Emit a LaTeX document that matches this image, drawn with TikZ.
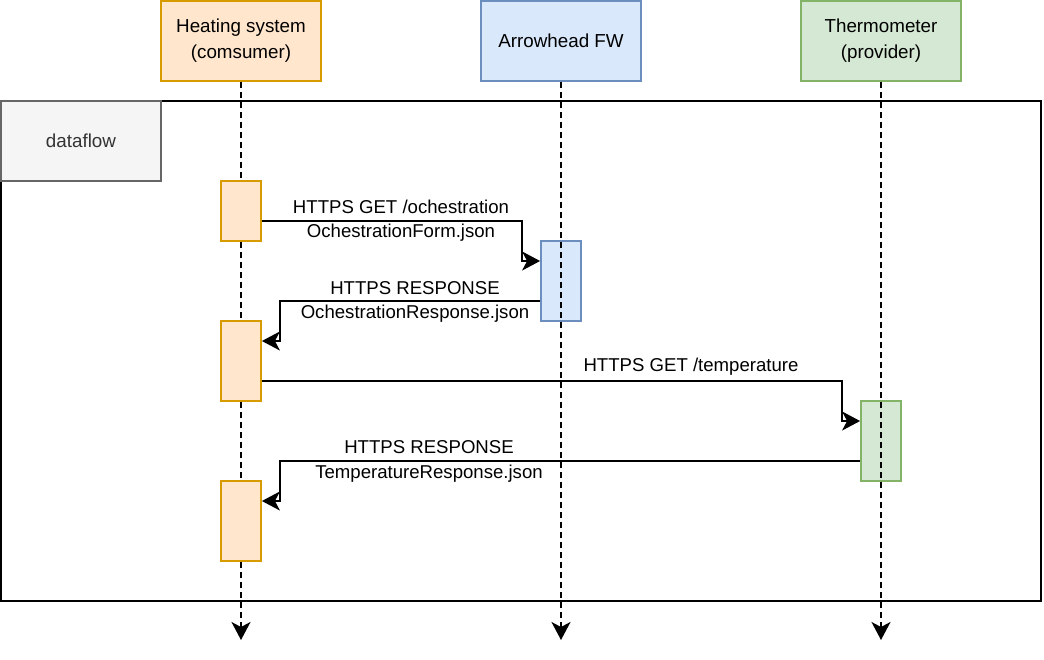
\documentclass[tikz,border=0pt]{standalone}
\usepackage{fontspec}
\setmainfont{Liberation Sans}
\usetikzlibrary{arrows.meta}
\definecolor{hfill}{HTML}{FFE6CC}
\definecolor{hdraw}{HTML}{D79B00}
\definecolor{afill}{HTML}{DAE8FC}
\definecolor{adraw}{HTML}{6C8EBF}
\definecolor{tfill}{HTML}{D5E8D4}
\definecolor{tdraw}{HTML}{82B366}
\definecolor{dfill}{HTML}{F5F5F5}
\definecolor{ddraw}{HTML}{666666}
\definecolor{dtext}{HTML}{333333}
\tikzset{
  lw/.style={line width=1.8pt},
  partbox/.style={lw, draw, rectangle, minimum width=160pt, minimum height=80pt, inner sep=0pt, align=center, font=\fontsize{18.8}{26}\selectfont},
  actbox/.style={lw, draw, rectangle, minimum width=40pt, inner sep=0pt},
  life/.style={lw, dash pattern=on 6pt off 4pt, -{Stealth[length=18pt, width=19pt, inset=5pt]}},
  msg/.style={lw, -{Stealth[length=18pt, width=19pt, inset=5pt]}},
  lbl/.style={inner sep=0pt, align=center, font=\fontsize{18.6}{26}\selectfont},
}
\begin{document}
\begin{tikzpicture}[x=1pt, y=-1pt]
\useasboundingbox (0,0) rectangle (1044,660);
% frame
\node[lw, draw=black, rectangle, minimum width=1040pt, minimum height=500pt, inner sep=0pt] (frame) at (521,351) {};
\node[lw, draw=ddraw, fill=dfill, rectangle, minimum width=160pt, minimum height=80pt, inner sep=0pt, text=dtext, font=\fontsize{18.8}{23}\selectfont] (df) at (81,141) {dataflow};
% participants
\node[partbox, draw=hdraw, fill=hfill] (hs) at (241,41) {Heating system\\(comsumer)};
\node[partbox, draw=adraw, fill=afill] (aw) at (561,41) {Arrowhead FW};
\node[partbox, draw=tdraw, fill=tfill] (th) at (881,41) {Thermometer\\(provider)};
% end coordinates
\coordinate (hend) at (241,640);
\coordinate (aend) at (561,640);
\coordinate (tend) at (881,640);
% heating lifeline (under activations)
\draw[life] (hs.south) -- (hend);
% activations
\node[actbox, draw=hdraw, fill=hfill, minimum height=60pt] (h1) at (241,211) {};
\node[actbox, draw=adraw, fill=afill, minimum height=80pt] (a1) at (561,281) {};
\node[actbox, draw=hdraw, fill=hfill, minimum height=80pt] (h2) at (241,361) {};
\node[actbox, draw=tdraw, fill=tfill, minimum height=80pt] (t1) at (881,441) {};
\node[actbox, draw=hdraw, fill=hfill, minimum height=80pt] (h3) at (241,521) {};
% other lifelines (over activations)
\draw[life] (aw.south) -- (aend);
\draw[life] (th.south) -- (tend);
% messages
\draw[msg] ([yshift=-10pt]h1.east) -- ++(260,0) |- ([yshift=20pt]a1.west);
\draw[msg] ([yshift=-20pt]a1.west) -- ++(-260,0) |- ([yshift=20pt]h2.east);
\draw[msg] ([yshift=-20pt]h2.east) -- ++(580,0) |- ([yshift=20pt]t1.west);
\draw[msg] ([yshift=-20pt]t1.west) -- ++(-580,0) |- ([yshift=20pt]h3.east);
% labels
\node[lbl] (m1a) at (401,207) {HTTPS GET /ochestration};
\node[lbl] (m1b) at (401,233) {OchestrationForm.json};
\node[lbl] (m2a) at (415,288) {HTTPS RESPONSE};
\node[lbl] (m2b) at (415,314) {OchestrationResponse.json};
\node[lbl] (m3a) at (691,367) {HTTPS GET /temperature};
\node[lbl] (m4a) at (429,447) {HTTPS RESPONSE};
\node[lbl] (m4b) at (429,474) {TemperatureResponse.json};
\end{tikzpicture}
\end{document}
